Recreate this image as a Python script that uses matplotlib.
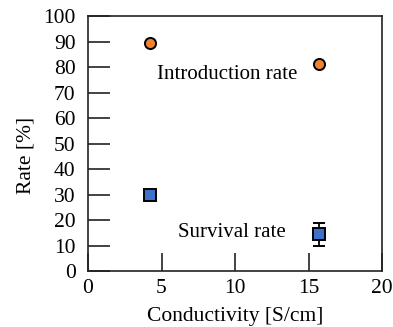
import matplotlib
matplotlib.use("Agg")
import matplotlib.pyplot as plt

plt.rcParams['font.family'] = ['Liberation Serif', 'DejaVu Serif']
plt.rcParams['mathtext.fontset'] = 'stix'

conductivity = [4.2, 15.7]
intro_rate = [89.5, 81.0]
survival_rate = [30.0, 14.5]
survival_err = [1.0, 4.5]

xticks = [0, 5, 10, 15, 20]
yticks = [0, 10, 20, 30, 40, 50, 60, 70, 80, 90, 100]

fig = plt.figure(figsize=(3.93, 3.27), dpi=100)
ax = fig.add_axes([0.224, 0.171, 0.748, 0.780])

ax.plot(conductivity, intro_rate, 'o', markerfacecolor='#F0812F',
        markeredgecolor='black', markersize=8, markeredgewidth=1.4, zorder=3)
ax.errorbar(conductivity, survival_rate, yerr=survival_err, fmt='s', color='black',
            markerfacecolor='#3C72C9', markeredgecolor='black', markersize=8.5,
            markeredgewidth=1.4, capsize=4, elinewidth=1.3, capthick=1.5, zorder=3)

ax.text(9.5, 77.0, 'Introduction rate', fontsize=15, ha='center', va='center')
ax.text(9.8, 15.0, 'Survival rate', fontsize=15, ha='center', va='center')

ax.set_xlim(0, 20)
ax.set_ylim(0, 100)
ax.set_xticks(xticks)
ax.set_yticks(yticks)
ax.tick_params(axis='both', direction='in', labelsize=15.5, width=1.2, color='#222222')
ax.tick_params(axis='y', length=16, pad=9)
ax.tick_params(axis='x', length=13, pad=6)
for s in ax.spines.values():
    s.set_linewidth(1.2)
    s.set_color('#222222')

ax.set_xlabel('Conductivity [S/cm]', fontsize=15.5, labelpad=6)
ax.set_ylabel('Rate [%]', fontsize=15.5)
ax.yaxis.set_label_coords(-0.178, 0.455)

fig.savefig('out.png', dpi=100)
